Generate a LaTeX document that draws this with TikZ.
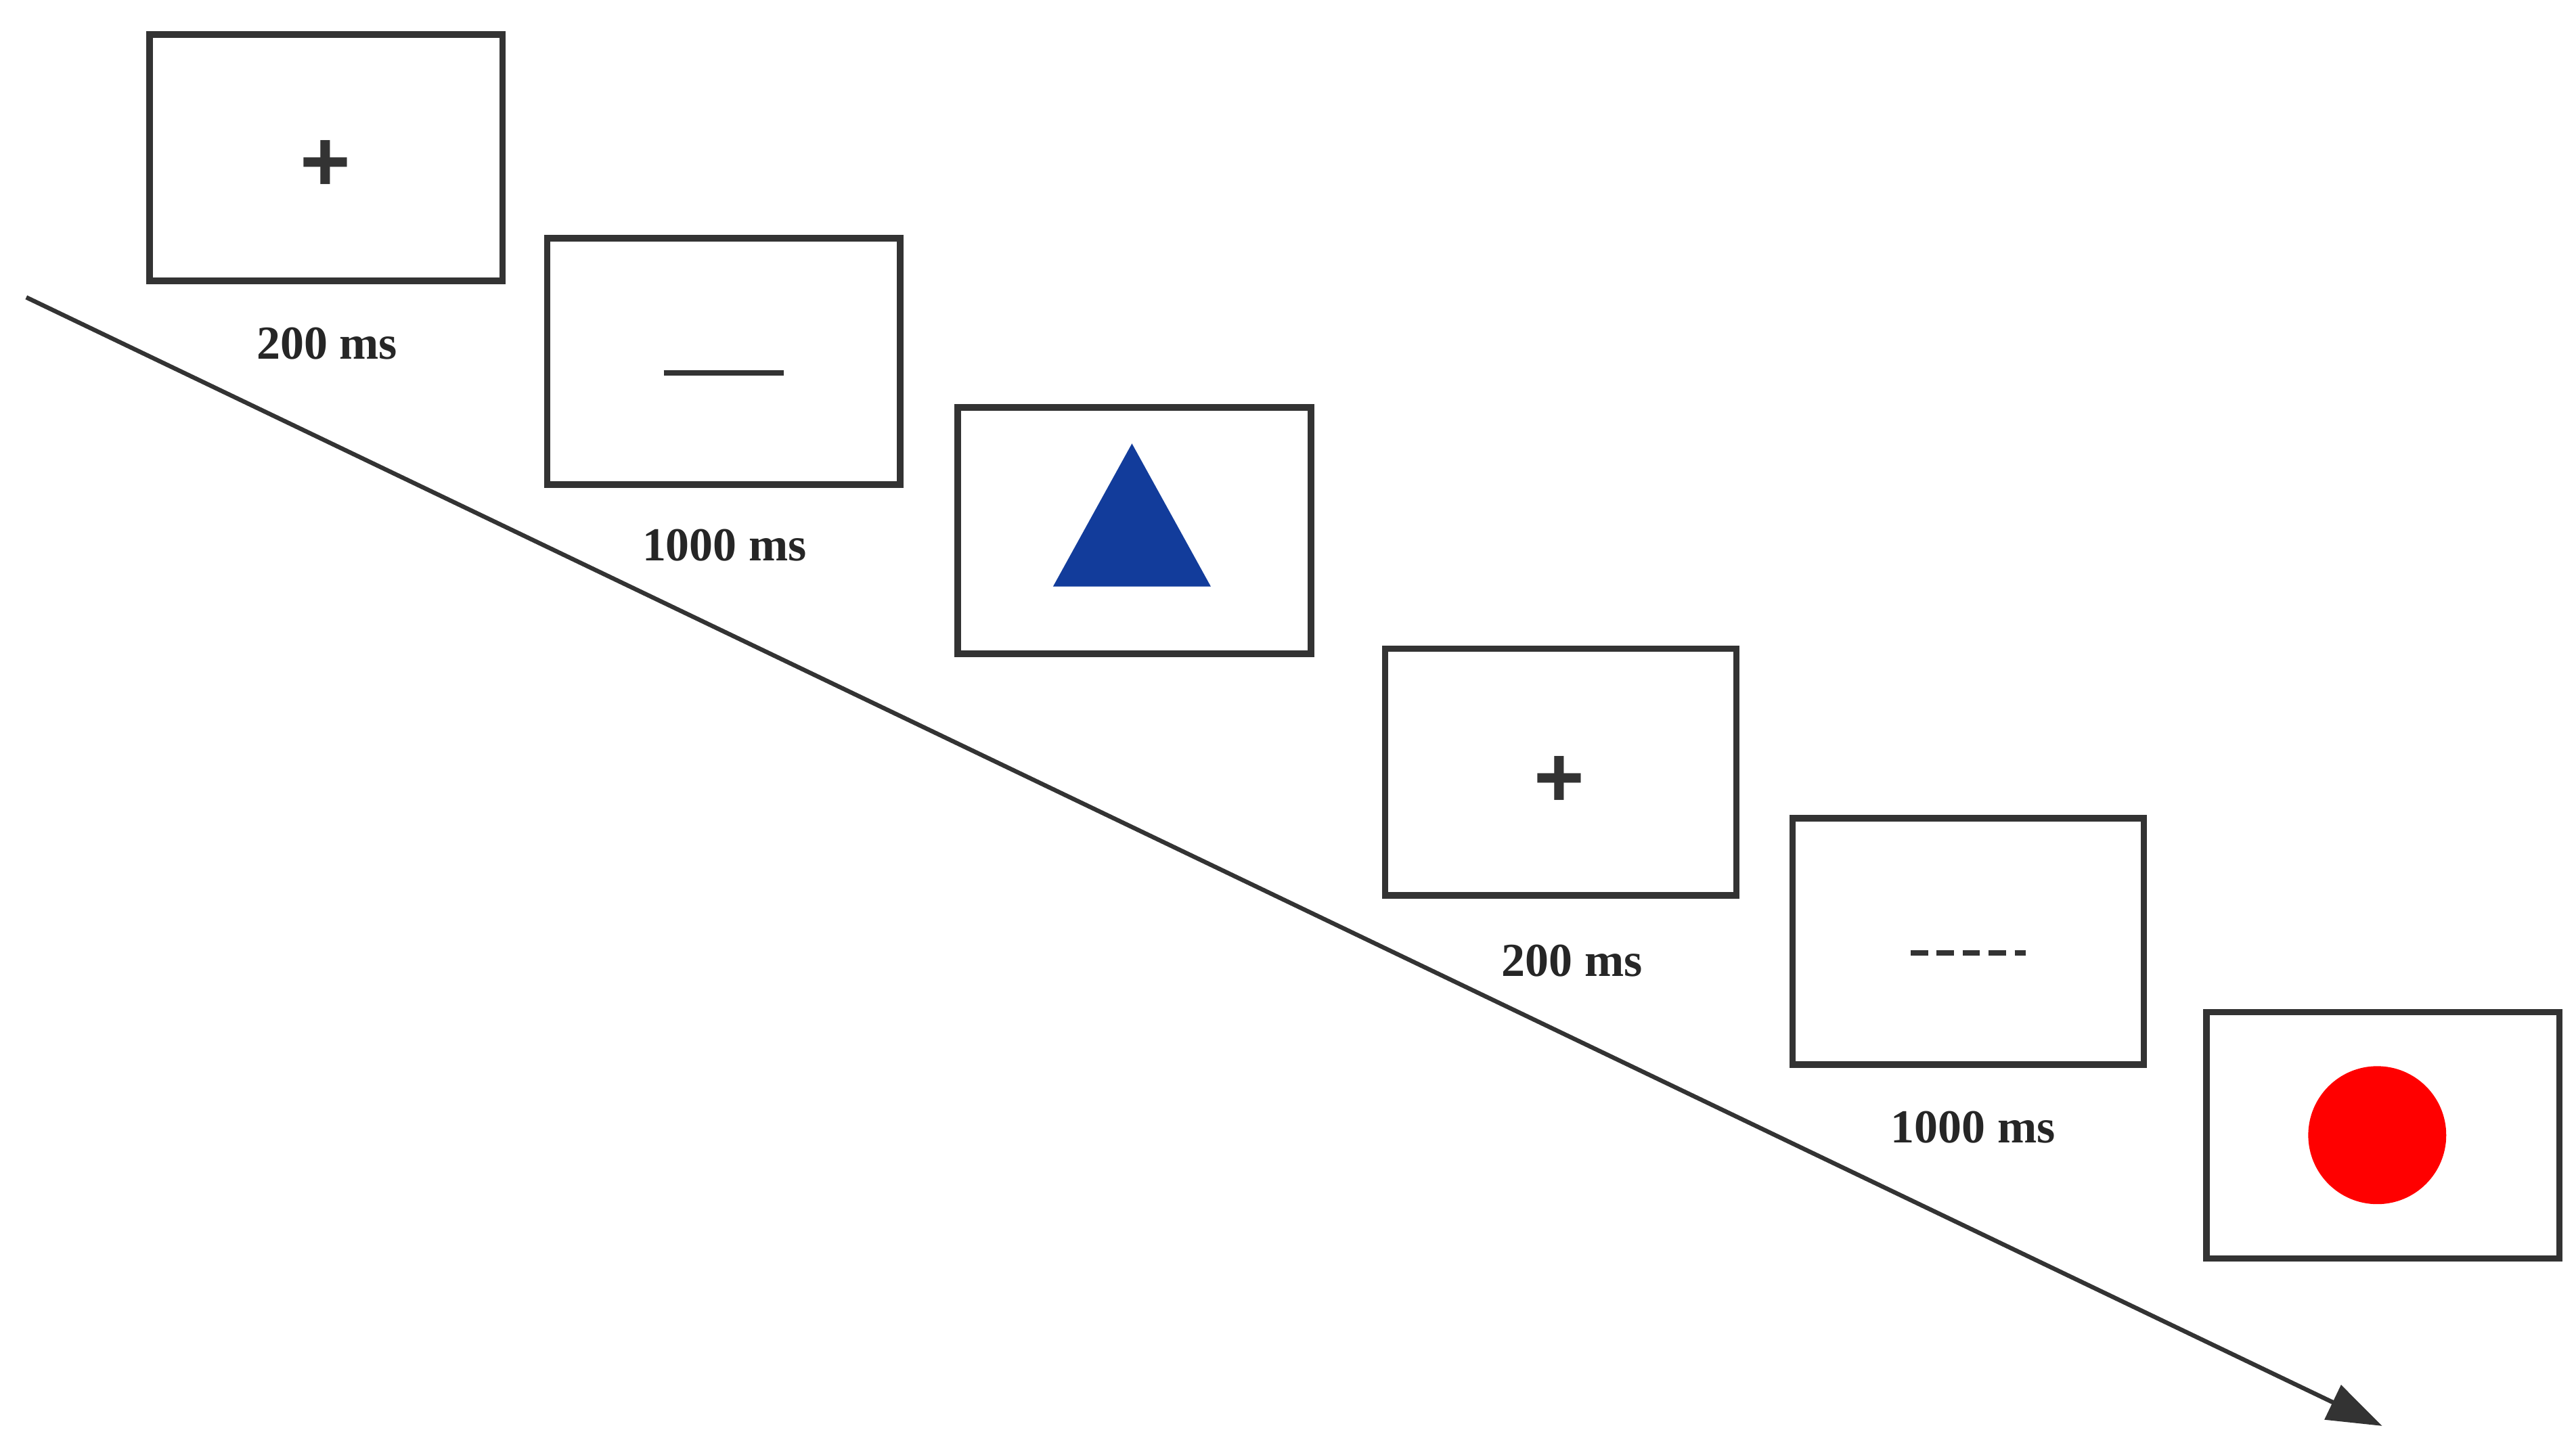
\documentclass[tikz,border=0pt]{standalone}
\usepackage{fontspec}
\setmainfont{Liberation Serif}
\newfontfamily\sans{Liberation Sans}
\usetikzlibrary{arrows.meta}
\begin{document}
\begin{tikzpicture}[x=0.1cm,y=-0.1cm,
  scr/.style={draw=black!80,line width=11pt,fill=white},
  lab/.style={font=\fontsize{82}{96}\selectfont\bfseries,text=black!85,inner sep=0},
  sym/.style={font=\sans\fontsize{150}{160}\selectfont\bfseries,text=black!80,inner sep=0}]
\useasboundingbox (0,0) rectangle (1568,882);
\coordinate (s) at (16,181);
\coordinate (e) at (1450,868);
\draw[black!80,line width=7.5pt,-{Triangle[length=95pt,width=65pt]}] (s) -- (e);
\draw[scr] (91,21) rectangle (306,171);
\draw[scr] (333,145) rectangle (548,295);
\draw[scr] (583,248) rectangle (798,398);
\draw[scr] (843,395) rectangle (1057,545);
\draw[scr] (1091,498) rectangle (1305,648);
\draw[scr] (1343,616) rectangle (1558,766);
\node[sym] (p1) at (198,101) {+};
\node[sym] (p2) at (949,476) {+};
\draw[black!80,line width=10pt] (404,227) -- (477,227);
\draw[black!80,line width=9pt,dash pattern=on 30pt off 15pt] (1163,580) -- (1233,580);
\fill[fill={rgb,255:red,18;green,60;blue,155}] (689,270) -- (737,357) -- (641,357) -- cycle;
\fill[red] (1447,691) circle (42);
\node[lab] (l1) at (199,209) {200 ms};
\node[lab] (l2) at (441,332) {1000 ms};
\node[lab] (l3) at (957,585) {200 ms};
\node[lab] (l4) at (1201,686) {1000 ms};
\end{tikzpicture}
\end{document}
